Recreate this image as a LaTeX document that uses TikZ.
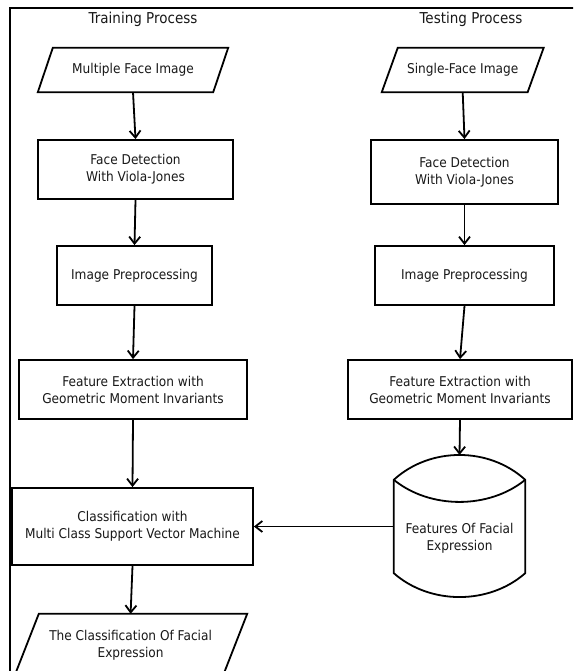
\documentclass[tikz,border=0pt]{standalone}
\usepackage{fontspec}
\setmainfont[FakeStretch=0.9]{DejaVu Sans}
\usetikzlibrary{arrows.meta,calc}
\tikzset{
  box/.style={draw, line width=1.8pt, minimum width=#1, align=center, inner sep=0pt, font=\fontsize{13.5}{17}\selectfont, text=black!90},
  para/.style={minimum width=#1, align=center, inner sep=0pt, font=\fontsize{13.5}{17}\selectfont, text=black!90},
  ttl/.style={font=\fontsize{15}{18}\selectfont, text=black!90},
  arr/.style={line width=1.8pt, -{Straight Barb[length=7pt,width=11pt,line width=1.8pt]}},
  shp/.style={line width=1.8pt}
}
\begin{document}
\begin{tikzpicture}[x=1pt,y=-1pt]
\useasboundingbox (0,0) rectangle (573,671);
\clip (0,0) rectangle (573,671);
\fill[white] (0,0) rectangle (573,671);
\draw[shp] (575,8) -- (10,8) -- (10,675);

\node[ttl] (t1) at (143,19) {Training Process};
\node[ttl] (t2) at (471,19) {Testing Process};

% left column
\node[para=175, minimum height=44] (P1) at (133,70) {Multiple Face Image};
\draw[shp] ([xshift=7.5pt]P1.north west) -- ([xshift=7.5pt]P1.north east) -- ([xshift=-7.5pt]P1.south east) -- ([xshift=-7.5pt]P1.south west) -- cycle;
\node[box=195, minimum height=59] (B2) at (135.5,169.5) {Face Detection\\With Viola-Jones};
\node[box=155, minimum height=59] (B3) at (134.5,275.5) {Image Preprocessing};
\node[box=228, minimum height=59] (B4) at (133,389.5) {Feature Extraction with\\Geometric Moment Invariants};
\node[box=241, minimum height=77] (B5) at (132.5,526.5) {Classification with\\Multi Class Support Vector Machine};
\node[para=208, minimum height=63] (P6) at (130.6,645.5) {The Classification Of Facial\\Expression};
\draw[shp] ([xshift=12.4pt]P6.north west) -- ([xshift=12.4pt]P6.north east) -- ([xshift=-12.4pt]P6.south east) -- ([xshift=-12.4pt]P6.south west) -- cycle;

% right column
\node[para=145.5, minimum height=44] (Q1) at (462.7,70) {Single-Face Image};
\draw[shp] ([xshift=8pt]Q1.north west) -- ([xshift=8pt]Q1.north east) -- ([xshift=-8pt]Q1.south east) -- ([xshift=-8pt]Q1.south west) -- cycle;
\node[box=187, minimum height=64] (R2) at (464.5,172) {Face Detection\\With Viola-Jones};
\node[box=179, minimum height=59] (R3) at (464.5,275.5) {Image Preprocessing};
\node[box=224, minimum height=59] (R4) at (460,389.5) {Feature Extraction with\\Geometric Moment Invariants};

% cylinder
\node[minimum width=131, minimum height=93, inner sep=0pt] (cyl) at (459.5,526.5) {};
\coordinate (cyltop) at (459.5,455);
\draw[shp] (cyl.north west) .. controls (430,446.7) and (489,446.7) .. (cyl.north east)
  -- (cyl.south east) .. controls (489,605) and (430,605) .. (cyl.south west) -- cycle;
\draw[shp] (cyl.north west) .. controls (430,509.3) and (489,509.3) .. (cyl.north east);
\node[para=120, minimum height=34] (cyltxt) at (459.5,538.5) {Features Of Facial\\Expression};

% connectors
\draw[arr] (P1.south) -- (B2.north);
\draw[arr] (B2.south) -- (B3.north);
\draw[arr] (B3.south) -- (B4.north);
\draw[arr] (B4.south) -- (B5.north);
\draw[arr] (B5.south) -- (P6.north);
\draw[arr] (Q1.south) -- (R2.north);
\draw[arr] (R2.south) -- (R3.north);
\draw[arr] (R3.south) -- (R4.north);
\draw[arr] (R4.south) -- (cyltop);
\draw[arr] (cyl.west) -- (B5.east);
\end{tikzpicture}
\end{document}
